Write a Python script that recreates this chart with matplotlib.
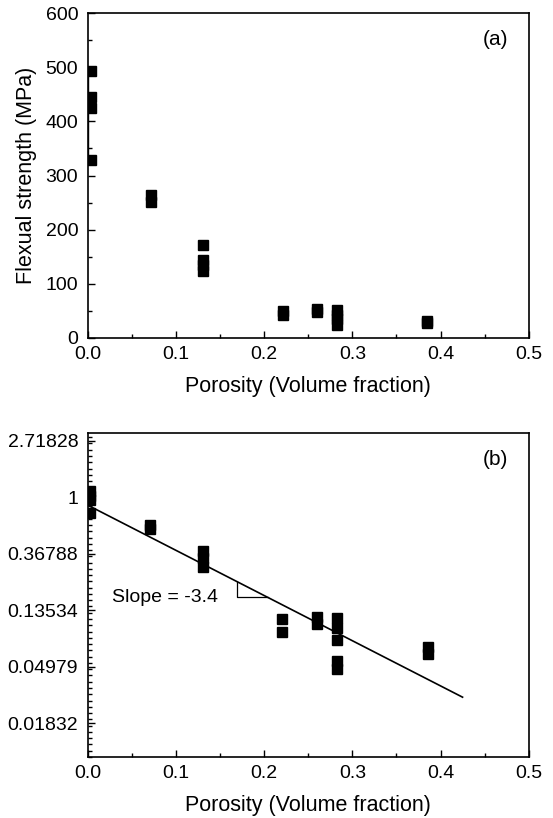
import matplotlib
matplotlib.use("Agg")
import matplotlib.pyplot as plt
import numpy as np
from matplotlib.ticker import MultipleLocator, FixedLocator, FixedFormatter

plt.rcParams["font.family"] = ["Liberation Sans", "DejaVu Sans"]

# (a) flexural strength vs porosity
por_a = [0.003, 0.003, 0.003, 0.003,
         0.071, 0.071,
         0.131, 0.131, 0.131, 0.131,
         0.221, 0.221,
         0.260, 0.260,
         0.282, 0.282, 0.282, 0.282,
         0.385, 0.385]
strength_a = [493, 445, 425, 329,
              264, 251,
              172, 144, 134, 124,
              50, 42,
              54, 48,
              52, 42, 35, 24,
              32, 27]
bar_a = [0.0005, 335, 490]  # x, low, high of the range bar at zero porosity

# (b) normalised strength (natural log axis) vs porosity
por_b = [0.002, 0.002, 0.002, 0.002,
         0.070, 0.070,
         0.130, 0.130, 0.130,
         0.220, 0.220,
         0.260, 0.260,
         0.282, 0.282, 0.282, 0.282, 0.282,
         0.386, 0.386]
rel_b = [1.12, 1.02, 0.96, 0.76,
         0.61, 0.57,
         0.39, 0.34, 0.29,
         0.115, 0.092,
         0.121, 0.107,
         0.119, 0.098, 0.080, 0.055, 0.048,
         0.071, 0.062]
fit_x = [0.0, 0.425]
fit_y = [0.87, 0.029]
tri_x = [0.169, 0.204]
slope_text = "Slope = -3.4"

yb_ticks = [np.e ** k for k in range(1, -5, -1)]
yb_labels = ["2.71828", "1", "0.36788", "0.13534", "0.04979", "0.01832"]


def style_axes(ax):
    ax.tick_params(which="both", direction="in", top=False, right=False,
                   labelsize=14, width=1.0)
    ax.tick_params(which="major", length=5)
    ax.tick_params(which="minor", length=3)
    ax.tick_params(axis="y", which="major", pad=7)
    ax.tick_params(axis="x", which="major", pad=6)
    for s in ax.spines.values():
        s.set_linewidth(1.2)
    ax.set_xlim(0, 0.5)
    ax.xaxis.set_major_locator(MultipleLocator(0.1))
    ax.xaxis.set_minor_locator(MultipleLocator(0.05))
    ax.set_xlabel("Porosity (Volume fraction)", fontsize=15.5, labelpad=9)


fig = plt.figure(figsize=(5.53, 8.18), dpi=100)
ax1 = fig.add_axes([0.159, 0.5868, 0.797, 0.3973])
ax2 = fig.add_axes([0.159, 0.0746, 0.797, 0.396])

# panel (a)
ax1.vlines(bar_a[0], bar_a[1], bar_a[2], color="black", lw=1.0)
ax1.plot(por_a, strength_a, "s", color="black", ms=7.5, mec="black")
style_axes(ax1)
ax1.set_ylim(0, 600)
ax1.yaxis.set_major_locator(MultipleLocator(100))
ax1.yaxis.set_minor_locator(MultipleLocator(50))
ax1.set_ylabel("Flexual strength (MPa)", fontsize=15.5, labelpad=6)
ax1.text(0.925, 0.917, "(a)", transform=ax1.transAxes, fontsize=15,
         ha="center", va="center")

# panel (b)
ax2.set_yscale("log", base=np.e)
ax2.plot(por_b, rel_b, "s", color="black", ms=7.5, mec="black")
ax2.plot(fit_x, fit_y, color="black", lw=1.2)
slope = (np.log(fit_y[1]) - np.log(fit_y[0])) / (fit_x[1] - fit_x[0])
line_at = [np.exp(np.log(fit_y[0]) + slope * t) for t in tri_x]
ax2.plot([tri_x[0], tri_x[0], tri_x[1]], [line_at[0], line_at[1], line_at[1]],
         color="black", lw=0.9)
ax2.text(0.027, line_at[1], slope_text, fontsize=14, ha="left", va="center")
style_axes(ax2)
ax2.set_ylim(np.exp(-4.6), np.exp(1.14))
ax2.yaxis.set_major_locator(FixedLocator(yb_ticks))
ax2.yaxis.set_major_formatter(FixedFormatter(yb_labels))
ax2.yaxis.set_minor_locator(FixedLocator(np.exp(np.arange(-4.6, 1.15, 1 / 9))))
ax2.yaxis.set_minor_formatter(FixedFormatter([]))
ax2.text(0.925, 0.917, "(b)", transform=ax2.transAxes, fontsize=15,
         ha="center", va="center")

fig.savefig("out.png", dpi=100)
